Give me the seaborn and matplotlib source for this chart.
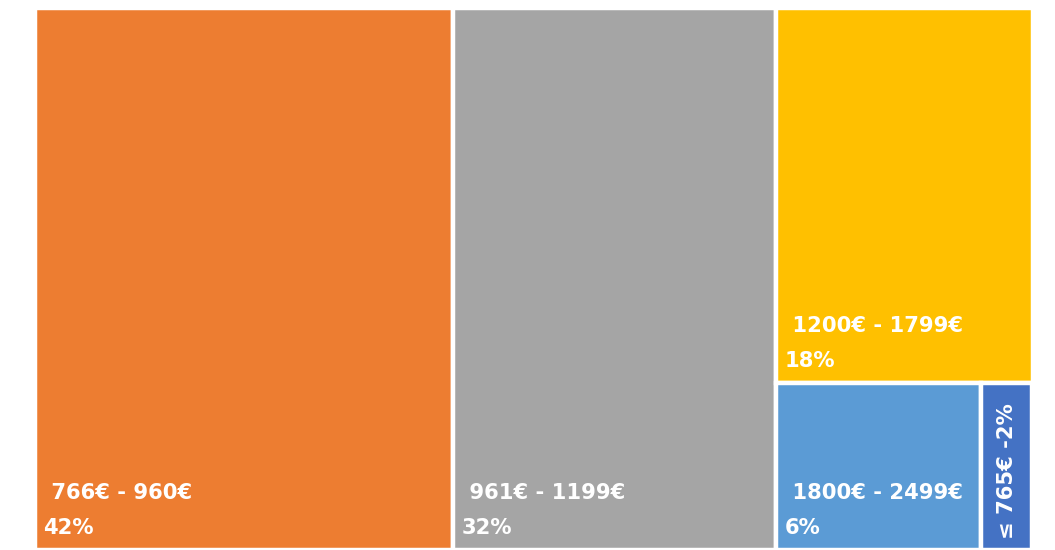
import matplotlib.pyplot as plt
import seaborn as sns
from matplotlib.patches import Rectangle

# Treemap - répartition par tranche de revenu
labels = ["766€ - 960€", "961€ - 1199€", "1200€ - 1799€", "1800€ - 2499€", "≤ 765€"]
pct_labels = ["42%", "32%", "18%", "6%", "2%"]
values = [41.9, 32.4, 17.8, 6.3, 1.6]
colors = ["#ED7D31", "#A5A5A5", "#FFC000", "#5B9BD5", "#4472C4"]

sns.set_theme(style="white")
plt.rcParams['font.family'] = ['DejaVu Sans']

fig = plt.figure(figsize=(10.55, 5.5), dpi=100)
ax = fig.add_axes([34.5 / 1055, 0 / 550, 998 / 1055, 542.5 / 550])
ax.set_xlim(0, 100)
ax.set_ylim(0, 100)
ax.axis('off')

# layout: two full-height columns, then a column split top / bottom row
total = sum(values)
rects = []
x = 0
for v in values[:2]:
    w = v / total * 100
    rects.append((x, 0, w, 100))
    x += w
rest = sum(values[2:])
w3 = rest / total * 100
h_top = values[2] / rest * 100
rects.append((x, 100 - h_top, w3, h_top))
bottom = sum(values[3:])
xb = x
for v in values[3:]:
    wb = v / bottom * w3
    rects.append((xb, 0, wb, 100 - h_top))
    xb += wb

for (rx, ry, rw, rh), c in zip(rects, colors):
    ax.add_patch(Rectangle((rx, ry), rw, rh, facecolor=c, edgecolor='white', linewidth=3.2))

font_kw = dict(color='white', fontsize=15.2, fontweight='bold')
for i, (rx, ry, rw, rh) in enumerate(rects[:4]):
    ax.annotate(" " + labels[i], (rx, ry), xytext=(9, 51), textcoords='offset pixels',
                ha='left', va='baseline', **font_kw)
    ax.annotate(pct_labels[i], (rx, ry), xytext=(9, 16), textcoords='offset pixels',
                ha='left', va='baseline', **font_kw)

rx, ry, rw, rh = rects[4]
ax.annotate(f"{labels[4]} -{pct_labels[4]}", (rx + rw / 2, ry), xytext=(0, 11),
            textcoords='offset pixels', ha='center', va='bottom', rotation=90, **font_kw)

plt.savefig('out.png', dpi=100)
plt.close()
